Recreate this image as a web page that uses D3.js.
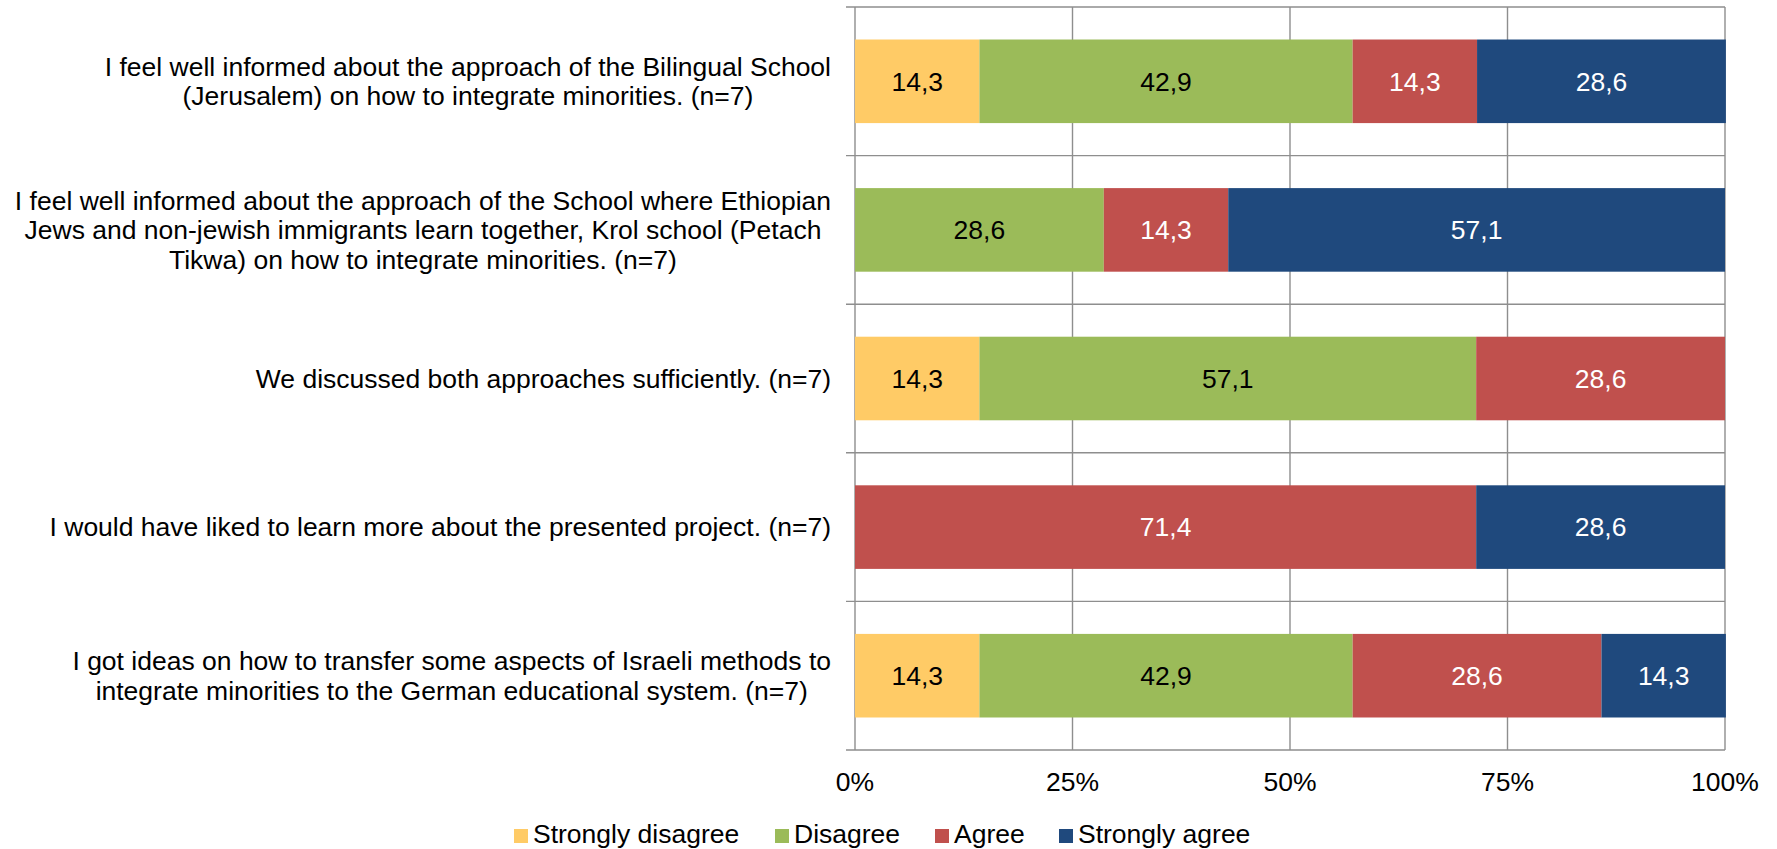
<!DOCTYPE html>
<html>
<head>
<meta charset="utf-8">
<script src="https://cdn.jsdelivr.net/npm/d3@7"></script>
<style>
  html, body { margin: 0; padding: 0; background: #fff; }
  svg { display: block; font-family: "Liberation Sans", Arial, sans-serif; }
</style>
</head>
<body>
<div id="chart"></div>
<script>
// statements, each split in lines as in the original chart
var categories = [
  ["I feel well informed about the approach of the Bilingual School",
   "(Jerusalem) on how to integrate minorities. (n=7)"],
  ["I feel well informed about the approach of the School where Ethiopian",
   "Jews and non-jewish immigrants learn together, Krol school (Petach",
   "Tikwa) on how to integrate minorities. (n=7)"],
  ["We discussed both approaches sufficiently. (n=7)"],
  ["I would have liked to learn more about the presented project. (n=7)"],
  ["I got ideas on how to transfer some aspects of Israeli methods to",
   "integrate minorities to the German educational system. (n=7)"]
];

var seriesNames = ["Strongly disagree", "Disagree", "Agree", "Strongly agree"];
var seriesColors = ["#FFCB66", "#9BBB59", "#C0504D", "#1F497D"];
var labelColors = ["#000", "#000", "#fff", "#fff"];

var stronglyDisagree = [14.3, 0, 14.3, 0, 14.3];
var disagree         = [42.9, 28.6, 57.1, 0, 42.9];
var agree            = [14.3, 14.3, 28.6, 71.4, 28.6];
var stronglyAgree    = [28.6, 57.1, 0, 28.6, 14.3];

var tickValues = [0, 25, 50, 75, 100];

var W = 1777, H = 849;
var margin = {top: 7, right: 52, bottom: 99, left: 855};
var fontSize = 26.5;

var rows = categories.map(function(c, i) {
  return {
    idx: i,
    values: [stronglyDisagree[i], disagree[i], agree[i], stronglyAgree[i]]
  };
});

var stack = d3.stack()
  .keys([0, 1, 2, 3])
  .value(function(d, k) { return d.values[k]; });
var layers = stack(rows);

var svg = d3.select("#chart").append("svg")
  .attr("width", W).attr("height", H);

var innerW = W - margin.left - margin.right,
    innerH = H - margin.top - margin.bottom;

var g = svg.append("g")
  .attr("transform", "translate(" + margin.left + "," + margin.top + ")");

var x = d3.scaleLinear().domain([0, 100]).range([0, innerW]);
var y = d3.scaleBand()
  .domain(d3.range(categories.length))
  .range([0, innerH])
  .paddingInner(0.4375)
  .paddingOuter(0.21875);

var gridColor = "#8e8e8e";

// vertical gridlines
g.append("g").selectAll("line")
  .data(tickValues)
  .join("line")
  .attr("x1", function(d) { return x(d); })
  .attr("x2", function(d) { return x(d); })
  .attr("y1", 0).attr("y2", innerH)
  .attr("stroke", gridColor)
  .attr("stroke-width", 1.4);

// horizontal lines at category boundaries (with ticks sticking out left)
var bounds = d3.range(categories.length + 1).map(function(i) {
  return i * innerH / categories.length;
});
g.append("g").selectAll("line")
  .data(bounds)
  .join("line")
  .attr("x1", -9).attr("x2", innerW)
  .attr("y1", function(d) { return d; })
  .attr("y2", function(d) { return d; })
  .attr("stroke", gridColor)
  .attr("stroke-width", 1.4);

// bars
var layerG = g.append("g").selectAll("g")
  .data(layers)
  .join("g")
  .attr("fill", function(d) { return seriesColors[d.key]; });

layerG.selectAll("rect")
  .data(function(d) { return d.filter(function(s) { return s[1] - s[0] > 0; }); })
  .join("rect")
  .attr("x", function(d) { return x(d[0]); })
  .attr("width", function(d) { return x(d[1]) - x(d[0]); })
  .attr("y", function(d) { return y(d.data.idx); })
  .attr("height", y.bandwidth());

// value labels
layerG.selectAll("text")
  .data(function(d) {
    return d.filter(function(s) { return s[1] - s[0] > 0; })
      .map(function(s) { return {s: s, key: d.key}; });
  })
  .join("text")
  .attr("x", function(d) { return x((d.s[0] + d.s[1]) / 2); })
  .attr("y", function(d) { return y(d.s.data.idx) + y.bandwidth() / 2; })
  .attr("dy", "0.35em")
  .attr("text-anchor", "middle")
  .attr("font-size", fontSize)
  .attr("fill", function(d) { return labelColors[d.key]; })
  .text(function(d) { return d3.format(".1f")(d.s[1] - d.s[0]).replace(".", ","); });

// x axis tick labels
g.append("g").selectAll("text")
  .data(tickValues)
  .join("text")
  .attr("x", function(d) { return x(d); })
  .attr("y", innerH + 41)
  .attr("text-anchor", "middle")
  .attr("font-size", fontSize)
  .attr("fill", "#000")
  .text(function(d) { return d + "%"; });

// category labels: centered block, right-aligned next to axis
var lineH = 29.5;
var labelRight = -24;
categories.forEach(function(lines, i) {
  var cy = y(i) + y.bandwidth() / 2;
  var tg = g.append("g");
  var texts = tg.selectAll("text")
    .data(lines)
    .join("text")
    .attr("font-size", fontSize)
    .attr("fill", "#000")
    .attr("text-anchor", "middle")
    .attr("dy", "0.35em")
    .attr("y", function(d, j) { return cy + (j - (lines.length - 1) / 2) * lineH; })
    .text(function(d) { return d; });
  var maxW = d3.max(texts.nodes(), function(n) { return n.getComputedTextLength(); });
  texts.attr("x", labelRight - maxW / 2);
});

// legend
var legendX = [514, 775, 935, 1059];
var legend = svg.append("g").selectAll("g")
  .data(seriesNames)
  .join("g")
  .attr("transform", function(d, i) { return "translate(" + legendX[i] + ",829)"; });

legend.append("rect")
  .attr("width", 14).attr("height", 14)
  .attr("fill", function(d, i) { return seriesColors[i]; });

legend.append("text")
  .attr("x", 19)
  .attr("y", 14)
  .attr("font-size", fontSize)
  .attr("fill", "#000")
  .text(function(d) { return d; });
</script>
</body>
</html>
